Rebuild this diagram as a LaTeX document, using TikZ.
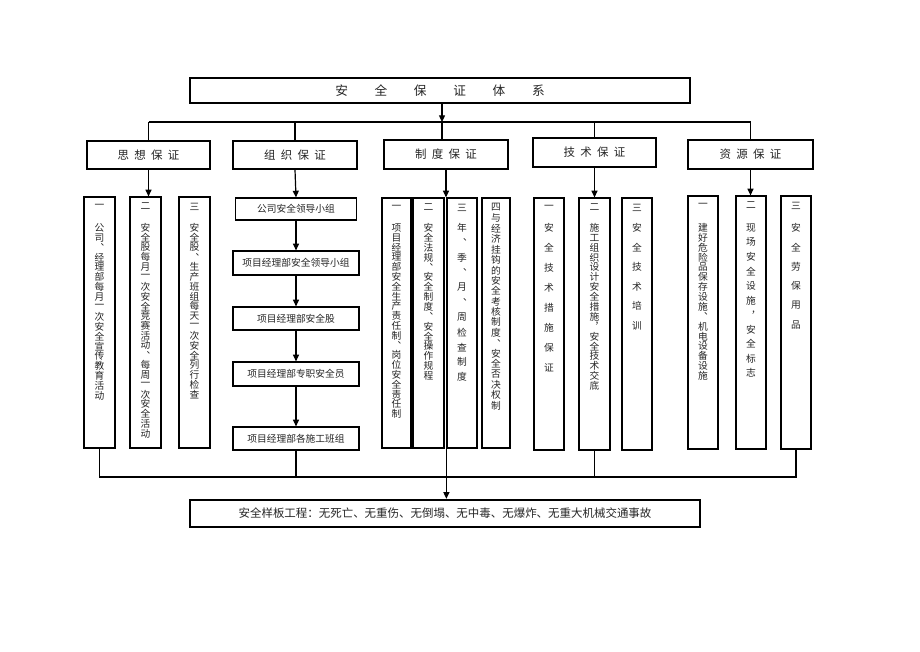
\documentclass[tikz,border=0pt]{standalone}
\usepackage{fontspec}
\newfontfamily\cjk{Noto Sans CJK SC}
\usetikzlibrary{arrows.meta}
\ExplSyntaxOn
\NewDocumentCommand\vchars{mm}{
  \vbox:n {
    \offinterlineskip
    \tl_map_inline:nn {#2}
      { \hbox_to_wd:nn {1em} { \hss \vbox_to_ht:nn {#1} { \vss \hbox:n {##1} \vss } \hss } }
  }
}
\ExplSyntaxOff
\newcommand\vfont{\fontsize{7.3}{7.3}\selectfont}
\newcommand\cfont{\fontsize{8.6}{10}\selectfont}
\newcommand\colbox[9]{%
  \node[sbox, minimum width=#3*0.75pt, minimum height=(#5-#4)*0.75pt] (#1) at (#2,{(#4+#5)/2}) {};
  \node[vt] (#1n) at (#2,{#4+9.5}) {#6};
  \node[vt, anchor=north] (#1t) at (#2,{#8-#7/1.5}) {\vchars{#7pt}{#9}};
}
\begin{document}
\begin{tikzpicture}[x=0.75pt,y=-0.75pt,font=\cjk,
  tbox/.style={draw, line width=1.8pt, inner sep=0pt, text=black!85},
  cbox/.style={draw, line width=1.2pt, inner sep=0pt, font=\cjk\cfont, text=black!85},
  sbox/.style={draw, line width=0.9pt, inner sep=0pt},
  obox/.style={draw, line width=0.9pt, inner sep=0pt, font=\cjk\vfont, text=black!85},
  vt/.style={inner sep=0pt, font=\cjk\vfont, text=black!85},
  ln/.style={line width=0.9pt},
  arr/.style={line width=0.9pt, -{Triangle[length=5pt,width=4.5pt]}}]
\fill[white] (0,0) rectangle (920,651);
\useasboundingbox (0,0) rectangle (920,651);

% title
\node[tbox, minimum width=500*0.75pt, minimum height=25*0.75pt, font=\cjk\fontsize{9.5}{11}\selectfont] (T) at (440,90.5)
  {安\hspace{20pt}全\hspace{20pt}保\hspace{20pt}证\hspace{20pt}体\hspace{20pt}系};

% categories
\node[cbox, minimum width=123*0.75pt, minimum height=28*0.75pt] (c1) at (148.5,155) {思\hspace{4pt}想\hspace{4pt}保\hspace{4pt}证};
\node[cbox, minimum width=124*0.75pt, minimum height=28*0.75pt] (c2) at (295,155) {组\hspace{4pt}织\hspace{4pt}保\hspace{4pt}证};
\node[cbox, minimum width=124*0.75pt, minimum height=29*0.75pt] (c3) at (446,154.5) {制\hspace{4pt}度\hspace{4pt}保\hspace{4pt}证};
\node[cbox, minimum width=123*0.75pt, minimum height=29*0.75pt] (c4) at (594.5,152.5) {技\hspace{4pt}术\hspace{4pt}保\hspace{4pt}证};
\node[cbox, minimum width=125*0.75pt, minimum height=29*0.75pt] (c5) at (750.5,154.5) {资\hspace{4pt}源\hspace{4pt}保\hspace{4pt}证};

% column 1
\colbox{s11}{99.5}{31}{197}{448}{一}{7.4}{227.5}{公司︑经理部每月一次安全宣传教育活动}
\colbox{s12}{145.5}{31}{197}{448}{二}{7.35}{227.5}{安全股每月一次安全竞赛活动︑每周一次安全活动}
\colbox{s13}{194.5}{31}{197}{448}{三}{7.35}{227.5}{安全股︑生产班组每天一次安全列行检查}

% column 2
\node[obox, minimum width=121*0.75pt, minimum height=22*0.75pt] (o1) at (296,209) {公司安全领导小组};
\node[obox, minimum width=126*0.75pt, minimum height=24*0.75pt] (o2) at (296,263) {项目经理部安全领导小组};
\node[obox, minimum width=126*0.75pt, minimum height=23*0.75pt] (o3) at (296,318.5) {项目经理部安全股};
\node[obox, minimum width=126*0.75pt, minimum height=24*0.75pt] (o4) at (296,374) {项目经理部专职安全员};
\node[obox, minimum width=126*0.75pt, minimum height=23*0.75pt] (o5) at (296,438.5) {项目经理部各施工班组};

% column 3
\colbox{d1}{396.5}{29}{198}{448}{一}{7.35}{227.5}{项目经理部安全生产责任制︑岗位安全责任制}
\colbox{d2}{428.5}{31}{198}{448}{二}{7.4}{227.5}{安全法规︑安全制度︑安全操作规程}
\colbox{d3}{462}{30}{198}{448}{三}{11.2}{227.5}{年︑季︑月︑周检查制度}
\colbox{d4}{496}{28}{198}{448}{四}{7.8}{218}{与经济挂钩的安全考核制度︑安全否决权制}

% column 4
\colbox{t1}{549}{30}{198}{450}{一}{15}{227.5}{安全技术措施保证}
\colbox{t2}{594.5}{31}{198}{450}{二}{7.4}{227.5}{施工组织设计安全措施︐安全技术交底}
\colbox{t3}{637}{30}{198}{450}{三}{14.7}{227.5}{安全技术培训}

% column 5
\colbox{r1}{703}{30}{196}{449}{一}{7.4}{227.5}{建好危险品保存设施︑机电设备设施}
\colbox{r2}{751}{30}{196}{449}{二}{10.9}{227.5}{现场安全设施︐安全标志}
\colbox{r3}{796}{30}{196}{449}{三}{14.6}{227.5}{安全劳保用品}

% final
\node[tbox, minimum width=510*0.75pt, minimum height=27*0.75pt, font=\cjk\cfont] (F) at (445,513.5)
  {安全样板工程：无死亡、无重伤、无倒塌、无中毒、无爆炸、无重大机械交通事故};

% top connectors
\coordinate (busC) at (442,122);
\draw[arr] (busC |- T.south) -- (busC);
\draw[ln] (c1.north |- busC) -- (c5.north |- busC);
\foreach \c in {c1,c2,c4,c5} \draw[ln] (\c.north |- busC) -- (\c.north);
\draw[ln] (busC) -- (busC |- c3.north);

% category arrows
\draw[arr] (c1.south) -- (c1.south |- s12.north);
\draw[arr] (c2.south) -- (o1.north);
\draw[arr] (c3.south) -- (c3.south |- d3.north);
\draw[arr] (c4.south) -- (t2.north);
\draw[arr] (c5.south) -- (c5.south |- r2.north);

% organisation chain
\draw[arr] (o1.south) -- (o2.north);
\draw[arr] (o2.south) -- (o3.north);
\draw[arr] (o3.south) -- (o4.north);
\draw[arr] (o4.south) -- (o5.north);

% bottom connectors
\coordinate (busB) at (447,477);
\draw[ln] (s11.south) -- (s11.south |- busB) -- (r3.south |- busB) -- (r3.south);
\draw[ln] (o5.south) -- (o5.south |- busB);
\draw[ln] (t2.south) -- (t2.south |- busB);
\draw[arr] (d3.south west) -- (d3.south west |- F.north);
\end{tikzpicture}
\end{document}
